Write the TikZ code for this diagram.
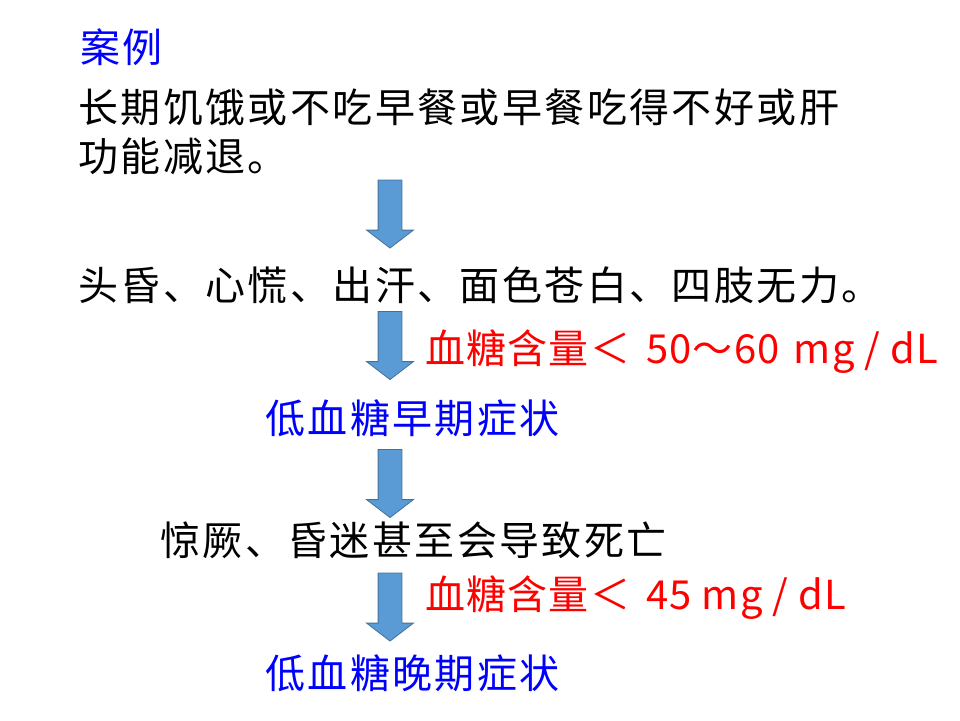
\documentclass[tikz,border=0pt]{standalone}
\usepackage{fontspec}
\setmainfont[LetterSpace=6]{Noto Sans CJK SC}
\newfontfamily\levelfont[LetterSpace=3]{Noto Sans CJK SC}
\usetikzlibrary{shapes.arrows}
\definecolor{arrfill}{HTML}{5B9BD5}
\definecolor{arrline}{HTML}{41719C}
\begin{document}
\begin{tikzpicture}[x=1pt,y=-1pt]
\tikzstyle{txt}=[anchor=west, inner sep=0pt, font=\fontsize{40}{48}\selectfont]
\tikzstyle{lvl}=[txt, text=red, font=\fontsize{40}{48}\selectfont\levelfont]
\tikzstyle{downarr}=[single arrow, draw=arrline, fill=arrfill, line width=0.8pt,
  rotate=-90, minimum height=68pt, minimum width=46pt, inner xsep=0pt, inner ysep=11.5pt,
  single arrow head extend=11.5pt, single arrow tip angle=105]
\useasboundingbox (0,0) rectangle (960,720);
\node[txt, text=blue] (title) at (80,47){案例};
\node[txt] (cause1) at (78,107){长期饥饿或不吃早餐或早餐吃得不好或肝};
\node[txt] (cause2) at (78,156){功能减退。};
\node[txt] (sym1) at (78,285){头昏、心慌、出汗、面色苍白、四肢无力。};
\node[lvl] (lvl1) at (425,352){血糖含量＜ \hspace{6pt}50～60\hspace{14pt}mg / dL};
\node[txt, text=blue] (early) at (265,418){低血糖早期症状};
\node[txt] (sym2) at (160,540){惊厥、昏迷甚至会导致死亡};
\node[lvl] (lvl2) at (425,598){血糖含量＜ \hspace{6pt}45 mg / dL};
\node[txt, text=blue] (late) at (265,673){低血糖晚期症状};
\foreach \n/\y in {1/209.5, 2/341, 3/479, 4/602.5}{
	\node[downarr] (arr\n) at (390,\y){};}
\end{tikzpicture}
\end{document}
